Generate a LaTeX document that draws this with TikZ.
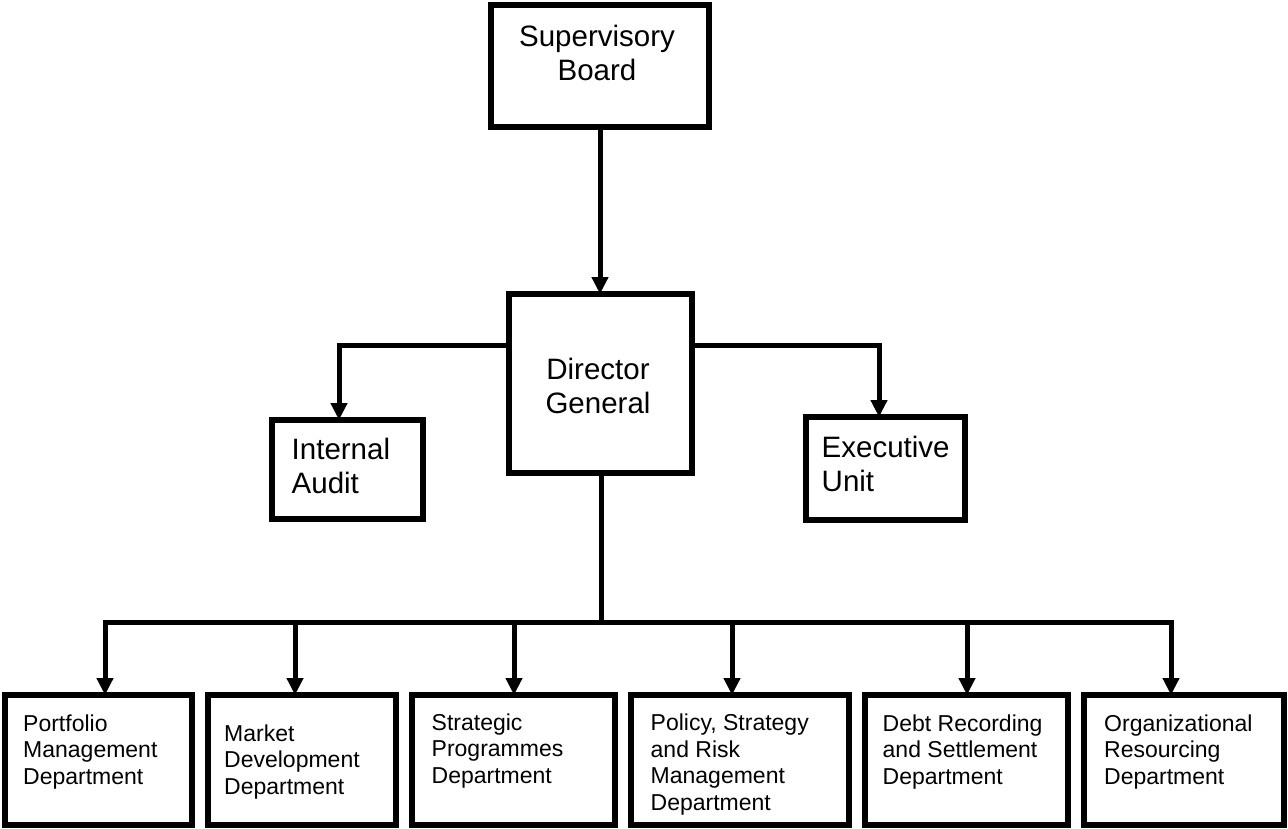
\documentclass[tikz,border=0pt]{standalone}
\usepackage{fontspec}
\setmainfont{Liberation Sans}
\usetikzlibrary{arrows.meta,calc}
\begin{document}
\begin{tikzpicture}[x=1pt,y=-1pt,
  box/.style={draw=black, line width=6pt, rectangle, inner sep=0pt, outer sep=0pt},
  conn/.style={line width=5pt, -{Triangle[width=16pt,length=17pt]}},
  wire/.style={line width=5pt},
  buswire/.style={line width=5pt, line cap=rect},
  toplbl/.style={inner sep=0pt, font=\fontsize{29.5}{34}\selectfont},
  botlbl/.style={inner sep=0pt, align=left, font=\fontsize{23}{26.5}\selectfont, anchor=base west}]
\useasboundingbox (0,0) rectangle (1288,828);
% boxes
\node[box, minimum width=218pt, minimum height=122pt] (sb) at (600,66) {};
\node[box, minimum width=183pt, minimum height=179pt] (dg) at (600.5,383.5) {};
\node[box, minimum width=151pt, minimum height=99pt] (ia) at (347.5,469.5) {};
\node[box, minimum width=159pt, minimum height=103pt] (eu) at (885.5,468.5) {};
\node[box, minimum width=187pt, minimum height=130pt] (b1) at (98.5,760) {};
\node[box, minimum width=188pt, minimum height=130pt] (b2) at (302,760) {};
\node[box, minimum width=203pt, minimum height=130pt] (b3) at (513.5,760) {};
\node[box, minimum width=218pt, minimum height=130pt] (b4) at (740,760) {};
\node[box, minimum width=203pt, minimum height=130pt] (b5) at (966.5,760) {};
\node[box, minimum width=200pt, minimum height=130pt] (b6) at (1184,760) {};
% labels (anchored at the baseline of the last line)
\node[toplbl, align=center, anchor=base] (sbt) at (597,80) {Supervisory\\Board};
\node[toplbl, align=center, anchor=base] (dgt) at (598,413) {Director\\General};
\node[toplbl, align=left, anchor=base west] (iat) at (291.5,493) {Internal\\Audit};
\node[toplbl, align=left, anchor=base west] (eut) at (821.5,491) {Executive\\Unit};
\node[botlbl] (b1t) at (23,784) {Portfolio\\Management\\Department};
\node[botlbl] (b2t) at (224,794) {Market\\Development\\Department};
\node[botlbl] (b3t) at (431.5,783) {Strategic\\Programmes\\Department};
\node[botlbl] (b4t) at (650.5,810) {Policy, Strategy\\and Risk\\Management\\Department};
\node[botlbl] (b5t) at (882.5,784) {Debt Recording\\and Settlement\\Department};
\node[botlbl] (b6t) at (1104,784) {Organizational\\Resourcing\\Department};
% connectors
\draw[conn] (sb.south) -- (sb.south |- dg.north);
\coordinate (iaTurn) at (339,345);
\coordinate (euTurn) at (879,345);
\draw[conn] (iaTurn -| dg.west) -- (iaTurn) -- (iaTurn |- ia.north);
\draw[conn] (euTurn -| dg.east) -- (euTurn) -- (euTurn |- eu.north);
\coordinate (busL) at (105,622);
\coordinate (busR) at (1171,622);
\coordinate (trunk) at (601.5,622);
\draw[wire] (trunk |- dg.south) -- (trunk);
\draw[buswire] (busL) -- (busR);
\coordinate (a2) at (295,622);
\coordinate (a3) at (514,622);
\coordinate (a4) at (732,622);
\coordinate (a5) at (967,622);
\draw[conn] (busL) -- (busL |- b1.north);
\draw[conn] (a2) -- (a2 |- b2.north);
\draw[conn] (a3) -- (a3 |- b3.north);
\draw[conn] (a4) -- (a4 |- b4.north);
\draw[conn] (a5) -- (a5 |- b5.north);
\draw[conn] (busR) -- (busR |- b6.north);
\end{tikzpicture}
\end{document}
